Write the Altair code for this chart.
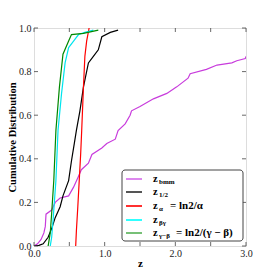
import altair as alt
import pandas as pd

# ---- data ----
bmm_x = [0.0, 0.05, 0.10, 0.14, 0.16, 0.17, 0.25, 0.30, 0.37, 0.49, 0.56, 0.63, 0.67, 0.77, 0.82,
         0.96, 1.03, 1.15, 1.19, 1.29, 1.36, 1.38, 1.50, 1.69, 1.88, 2.02, 2.18, 2.21, 2.44, 2.59,
         2.80, 2.87, 2.99, 3.0]
bmm_y = [0.0, 0.01, 0.03, 0.06, 0.09, 0.146, 0.165, 0.20, 0.22, 0.23, 0.27, 0.32, 0.35, 0.38, 0.42,
         0.45, 0.47, 0.49, 0.53, 0.56, 0.60, 0.62, 0.64, 0.675, 0.70, 0.73, 0.77, 0.79, 0.81, 0.83,
         0.84, 0.85, 0.86, 0.87]
half_x = [0.0, 0.07, 0.13, 0.20, 0.25, 0.30, 0.37, 0.41, 0.49, 0.53, 0.57, 0.60, 0.65, 0.70, 0.77,
          0.84, 0.91, 0.96, 1.08, 1.19]
half_y = [0.0, 0.003, 0.01, 0.04, 0.08, 0.13, 0.18, 0.23, 0.30, 0.39, 0.47, 0.53, 0.62, 0.73, 0.84,
          0.87, 0.90, 0.96, 0.98, 0.99]
alpha_x = [0.59, 0.60, 0.62, 0.64, 0.66, 0.675, 0.70, 0.72, 0.745, 0.78]
alpha_y = [0.0, 0.07, 0.18, 0.30, 0.42, 0.53, 0.73, 0.87, 0.94, 1.0]
bg_x = [0.23, 0.25, 0.27, 0.31, 0.34, 0.39, 0.44, 0.49, 0.56, 0.63, 0.72, 0.84]
bg_y = [0.0, 0.04, 0.12, 0.30, 0.53, 0.70, 0.84, 0.91, 0.94, 0.97, 0.98, 0.99]
gb_x = [0.20, 0.23, 0.25, 0.28, 0.31, 0.36, 0.41, 0.49, 0.53, 0.70, 0.91]
gb_y = [0.0, 0.06, 0.15, 0.30, 0.53, 0.73, 0.88, 0.94, 0.97, 0.975, 0.99]

series_names = ["bmm", "half", "alpha", "bg", "gb"]
series_colors = ["#c83cdc", "#000000", "#ff0000", "#00e5ee", "#008800"]
legend_colors = ["#dd88ee", "#555555", "#ff3030", "#30ffff", "#77c077"]
x_ticks = [0.0, 0.5, 1.0, 1.5, 2.0, 2.5, 3.0]
y_ticks = [0.0, 0.2, 0.4, 0.6, 0.8, 1.0]

rows = []
for name, xs_, ys_ in zip(series_names,
                          [bmm_x, half_x, alpha_x, bg_x, gb_x],
                          [bmm_y, half_y, alpha_y, bg_y, gb_y]):
    for i, (a, b) in enumerate(zip(xs_, ys_)):
        rows.append({"s": name, "i": i, "x": a, "y": b})
df = pd.DataFrame(rows)

W, H = 212, 218
FONT = "Liberation Serif"

xs = alt.Scale(domain=[0, 3], nice=False, zero=False)
ys = alt.Scale(domain=[0, 1], nice=False)

lines = alt.Chart(df).mark_line(strokeWidth=1.2, clip=True).encode(
    x=alt.X("x:Q", scale=xs, title="z",
            axis=alt.Axis(values=x_ticks, format=".1f", ticks=False, domain=False, grid=False,
                          labelOverlap=False, labelFlush=False,
                          labelFont=FONT, labelFontSize=10, labelColor="#222", labelPadding=2,
                          titleFont=FONT, titleFontSize=11, titleFontWeight="bold",
                          titleY=11, titleBaseline="top", titleColor="#000")),
    y=alt.Y("y:Q", scale=ys, title="Cumulative Distribution",
            axis=alt.Axis(values=y_ticks, format=".1f", ticks=False, domain=False, grid=False,
                          labelOverlap=False, labelFlush=False,
                          labelFont=FONT, labelFontSize=10, labelColor="#222", labelPadding=3,
                          titleFont=FONT, titleFontSize=10.5, titleFontWeight="bold",
                          titleX=-17, titleY=H / 2, titleAngle=270, titleBaseline="bottom",
                          titleColor="#000")),
    color=alt.Color("s:N", scale=alt.Scale(domain=series_names, range=series_colors), legend=None),
    detail="s:N",
    order="i:Q",
)

xt = pd.DataFrame({"t": x_ticks})
yt = pd.DataFrame({"t": y_ticks})
tick_style = dict(color="#444", strokeWidth=0.8)
bt = alt.Chart(xt).mark_rule(**tick_style).encode(x=alt.X("t:Q", scale=xs), y=alt.value(H), y2=alt.value(H - 4))
tt = alt.Chart(xt).mark_rule(**tick_style).encode(x=alt.X("t:Q", scale=xs), y=alt.value(0), y2=alt.value(4))
lt = alt.Chart(yt).mark_rule(**tick_style).encode(y=alt.Y("t:Q", scale=ys), x=alt.value(0), x2=alt.value(4))
rt = alt.Chart(yt).mark_rule(**tick_style).encode(y=alt.Y("t:Q", scale=ys), x=alt.value(W), x2=alt.value(W - 4))

one = pd.DataFrame({"a": [0]})
box = alt.Chart(one).mark_rect(fill="white", fillOpacity=0.9, stroke="#444", strokeWidth=1,
                               cornerRadius=3).encode(
    x=alt.value(88), x2=alt.value(209), y=alt.value(142), y2=alt.value(213))

row_y = [151, 164, 178, 192, 205]
subs = ["bmm", "1/2", "α", "βγ", "γ−β"]
tails = ["", "", "= ln2/α", "", "= ln2/(γ − β)"]
tail_x = [0, 0, 136, 0, 142]
legend_layers = []
for k in range(5):
    legend_layers.append(
        alt.Chart(one).mark_rule(color=legend_colors[k], strokeWidth=2).encode(
            x=alt.value(92), x2=alt.value(108), y=alt.value(row_y[k])))
    legend_layers.append(
        alt.Chart(pd.DataFrame({"t": ["z"]})).mark_text(
            align="left", baseline="middle", font=FONT, fontSize=10.5, fontWeight="bold").encode(
            x=alt.value(119), y=alt.value(row_y[k]), text="t:N"))
    legend_layers.append(
        alt.Chart(pd.DataFrame({"t": [subs[k]]})).mark_text(
            align="left", baseline="middle", font=FONT, fontSize=7, fontWeight="bold").encode(
            x=alt.value(125), y=alt.value(row_y[k] + 3), text="t:N"))
    if tails[k]:
        legend_layers.append(
            alt.Chart(pd.DataFrame({"t": [tails[k]]})).mark_text(
                align="left", baseline="middle", font=FONT, fontSize=11, fontWeight="bold").encode(
                x=alt.value(tail_x[k]), y=alt.value(row_y[k]), text="t:N"))

chart = alt.layer(lines, bt, tt, lt, rt, box, *legend_layers).properties(
    width=W, height=H,
    autosize=alt.AutoSizeParams(type="none"),
    padding={"left": 26, "top": 20, "right": 20, "bottom": 26},
).configure_view(stroke="#000", strokeWidth=1).configure(background="white")

chart.save("out.html", embed_options={"renderer": "svg", "actions": False})
